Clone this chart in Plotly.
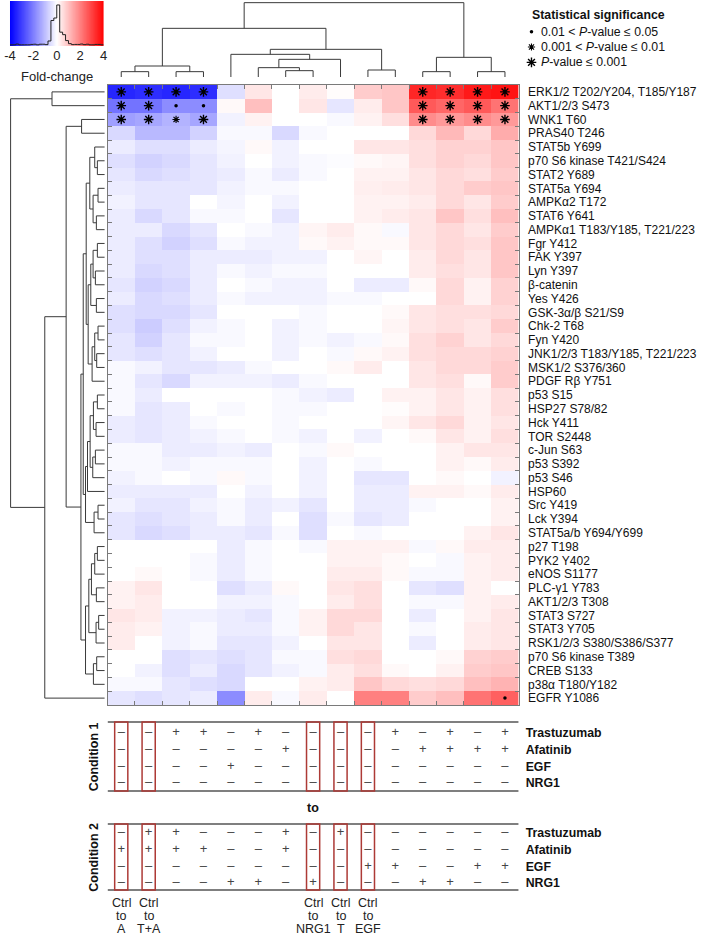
import numpy as np
import plotly.graph_objects as go

W, H = 709, 938

proteins = [
    "ERK1/2 T202/Y204, T185/Y187", "AKT1/2/3 S473", "WNK1 T60", "PRAS40 T246",
    "STAT5b Y699", "p70 S6 kinase T421/S424", "STAT2 Y689", "STAT5a Y694",
    "AMPKα2 T172", "STAT6 Y641", "AMPKα1 T183/Y185, T221/223", "Fgr Y412",
    "FAK Y397", "Lyn Y397", "β-catenin", "Yes Y426", "GSK-3α/β S21/S9",
    "Chk-2 T68", "Fyn Y420", "JNK1/2/3 T183/Y185, T221/223", "MSK1/2 S376/360",
    "PDGF Rβ Y751", "p53 S15", "HSP27 S78/82", "Hck Y411", "TOR S2448",
    "c-Jun S63", "p53 S392", "p53 S46", "HSP60", "Src Y419", "Lck Y394",
    "STAT5a/b Y694/Y699", "p27 T198", "PYK2 Y402", "eNOS S1177", "PLC-γ1 Y783",
    "AKT1/2/3 T308", "STAT3 S727", "STAT3 Y705", "RSK1/2/3 S380/S386/S377",
    "p70 S6 kinase T389", "CREB S133", "p38α T180/Y182", "EGFR Y1086",
]

# fold-change values, one list per protein, 15 comparisons (columns)
fold_change = [
    [-3.4, -3.3, -3.4, -3.3, -0.5, 0.4, 0.0, 0.3, 0.05, 0.8, 0.9, 3.4, 3.3, 3.6, 3.7],
    [-2.2, -2.2, -1.8, -1.8, 0.1, 1.0, 0.0, 0.4, -0.4, 0.3, 0.9, 2.6, 2.4, 2.6, 2.2],
    [-1.5, -1.4, -1.2, -1.4, -0.2, 0.2, 0.0, 0.0, -0.1, 0.2, 0.5, 1.8, 1.6, 1.8, 1.6],
    [-0.6, -1.1, -1.1, -0.7, -0.1, -0.1, -0.6, -0.1, 0.0, 0.0, 0.0, 0.6, 1.1, 0.6, 1.3],
    [-0.3, -0.5, -0.5, -0.3, -0.15, 0.1, -0.2, 0.0, 0.0, 0.4, 0.4, 0.5, 0.7, 0.7, 0.9],
    [-0.5, -0.7, -0.6, -0.4, -0.2, 0.0, -0.2, -0.1, -0.05, 0.1, 0.15, 0.5, 0.7, 0.6, 0.9],
    [-0.4, -0.6, -0.5, -0.4, -0.3, -0.1, -0.3, -0.1, 0.0, 0.2, 0.2, 0.4, 0.6, 0.5, 0.8],
    [-0.3, -0.4, -0.4, -0.4, -0.2, -0.1, -0.1, 0.0, 0.0, 0.25, 0.3, 0.4, 0.6, 0.8, 0.9],
    [-0.2, -0.4, -0.4, 0.0, -0.15, 0.0, -0.2, 0.0, 0.0, 0.2, 0.2, 0.3, 0.6, 0.4, 0.8],
    [-0.3, -0.6, -0.4, -0.1, -0.1, 0.0, -0.4, 0.0, 0.0, 0.2, 0.3, 0.4, 0.9, 0.5, 1.0],
    [-0.3, -0.3, -0.6, -0.4, 0.0, -0.1, -0.2, 0.15, 0.3, 0.1, -0.1, 0.4, 0.6, 0.4, 0.8],
    [-0.3, -0.5, -0.7, -0.5, -0.1, -0.2, -0.2, 0.1, 0.2, 0.1, 0.1, 0.4, 0.6, 0.5, 0.9],
    [-0.3, -0.5, -0.5, -0.3, -0.3, -0.3, -0.2, -0.2, 0.0, 0.15, 0.0, 0.3, 0.6, 0.4, 0.9],
    [-0.3, -0.6, -0.5, -0.3, -0.1, -0.2, -0.1, -0.1, 0.0, 0.0, 0.0, 0.3, 0.5, 0.4, 0.9],
    [-0.4, -0.7, -0.6, -0.3, 0.0, -0.1, -0.2, -0.2, 0.0, -0.3, -0.3, 0.1, 0.6, 0.2, 0.7],
    [-0.3, -0.6, -0.5, -0.3, -0.1, -0.2, -0.2, -0.2, -0.1, -0.1, 0.0, 0.0, 0.6, 0.2, 0.7],
    [-0.5, -0.6, -0.6, -0.4, 0.0, 0.0, 0.0, -0.1, 0.0, 0.0, 0.1, 0.4, 0.5, 0.5, 0.6],
    [-0.5, -0.8, -0.5, -0.2, -0.1, 0.0, -0.2, -0.1, 0.0, 0.0, 0.15, 0.4, 0.5, 0.4, 0.8],
    [-0.4, -0.7, -0.4, -0.1, -0.1, 0.0, -0.2, -0.1, -0.2, -0.1, 0.1, 0.5, 0.7, 0.4, 0.6],
    [-0.4, -0.5, -0.4, -0.2, 0.0, 0.0, -0.2, 0.0, -0.1, 0.1, 0.2, 0.5, 0.6, 0.6, 0.7],
    [-0.1, -0.2, -0.4, -0.4, -0.3, -0.1, 0.0, 0.0, 0.1, 0.3, 0.0, 0.4, 0.6, 0.6, 0.8],
    [-0.1, -0.4, -0.6, -0.2, -0.2, -0.2, -0.3, -0.1, 0.0, 0.0, 0.0, 0.4, 0.5, 0.1, 0.8],
    [-0.1, -0.3, 0.0, 0.0, 0.0, 0.0, -0.1, -0.2, -0.3, 0.0, 0.2, 0.2, 0.4, 0.2, 0.5],
    [-0.1, -0.4, -0.3, 0.0, -0.1, 0.0, -0.1, -0.1, 0.0, 0.0, 0.05, 0.2, 0.4, 0.2, 0.5],
    [-0.3, -0.4, -0.3, -0.1, 0.0, 0.0, -0.1, 0.0, 0.0, 0.0, 0.15, 0.4, 0.6, 0.2, 0.4],
    [-0.3, -0.4, -0.3, -0.2, -0.1, 0.0, -0.1, -0.2, 0.0, -0.2, 0.0, 0.1, 0.4, 0.2, 0.5],
    [-0.1, -0.1, -0.3, -0.3, -0.2, -0.3, 0.0, -0.1, 0.1, 0.0, 0.0, 0.0, 0.2, 0.4, 0.4],
    [-0.1, -0.1, -0.2, -0.1, -0.1, -0.1, 0.0, -0.2, 0.0, -0.1, 0.0, 0.0, 0.2, 0.1, 0.3],
    [-0.2, -0.1, 0.0, -0.1, 0.1, -0.1, 0.0, -0.2, 0.0, -0.4, -0.4, 0.0, 0.1, 0.0, -0.2],
    [-0.3, -0.3, -0.3, -0.3, 0.0, -0.2, 0.0, -0.2, 0.0, -0.3, -0.3, 0.2, 0.2, 0.1, 0.3],
    [-0.2, -0.4, -0.4, -0.2, -0.1, -0.3, -0.2, -0.4, 0.0, -0.3, -0.3, -0.1, 0.0, 0.0, 0.2],
    [-0.4, -0.5, -0.4, -0.3, -0.1, -0.3, 0.0, -0.5, -0.1, -0.4, -0.3, 0.0, 0.0, 0.0, 0.2],
    [-0.4, -0.6, -0.5, -0.3, -0.3, -0.4, -0.1, -0.5, 0.0, -0.1, 0.0, 0.0, 0.0, 0.2, 0.4],
    [0.0, 0.0, 0.0, 0.0, -0.3, -0.1, 0.0, -0.1, 0.2, 0.2, 0.2, -0.1, 0.1, 0.3, 0.3],
    [0.0, 0.0, 0.0, -0.1, -0.3, -0.1, 0.0, 0.0, 0.2, 0.2, 0.1, 0.0, -0.1, 0.2, 0.3],
    [0.0, 0.1, 0.0, -0.1, -0.3, -0.1, 0.0, 0.0, 0.3, 0.3, 0.1, -0.1, -0.1, 0.2, 0.3],
    [0.2, 0.4, 0.0, 0.0, -0.5, -0.3, 0.1, 0.0, 0.4, 0.5, 0.0, -0.4, -0.5, 0.2, 0.0],
    [0.2, 0.3, 0.0, 0.0, -0.2, -0.2, -0.1, 0.0, 0.3, 0.5, 0.0, -0.1, -0.1, 0.2, 0.3],
    [0.4, 0.3, -0.2, -0.2, -0.3, -0.4, -0.1, 0.2, 0.6, 0.6, 0.0, -0.3, 0.0, 0.2, 0.4],
    [0.3, 0.2, -0.2, -0.1, -0.3, -0.3, -0.1, 0.2, 0.6, 0.4, 0.0, -0.1, 0.0, 0.3, 0.4],
    [0.3, 0.0, -0.2, -0.1, -0.4, -0.4, -0.2, 0.0, 0.4, 0.4, 0.0, -0.3, 0.0, 0.3, 0.4],
    [0.0, 0.0, -0.5, -0.4, -0.5, -0.4, -0.1, -0.1, 0.5, 0.6, 0.0, 0.0, 0.1, 0.7, 0.8],
    [0.0, -0.2, -0.5, -0.3, -0.6, -0.4, -0.2, -0.1, 0.3, 0.5, 0.1, 0.0, 0.2, 0.8, 0.9],
    [-0.1, -0.1, -0.4, -0.5, -0.6, 0.0, 0.0, 0.2, 0.3, 0.9, 0.6, 0.5, 0.6, 1.0, 1.2],
    [-0.4, -0.5, -0.4, -0.3, -1.8, 0.3, -0.1, 0.3, 0.0, 2.0, 2.0, 0.8, 1.0, 2.2, 2.5],
]

# significance: (row, column, level)  level 1: 0.01<P<=0.05, 2: 0.001<P<=0.01, 3: P<=0.001
sig_rows = [0, 0, 0, 0, 0, 0, 0, 0, 1, 1, 1, 1, 1, 1, 1, 1, 2, 2, 2, 2, 2, 2, 2, 2, 44]
sig_cols = [0, 1, 2, 3, 11, 12, 13, 14, 0, 1, 2, 3, 11, 12, 13, 14, 0, 1, 2, 3, 11, 12, 13, 14, 14]
sig_levels = [3, 3, 3, 3, 3, 3, 3, 3, 3, 3, 1, 1, 3, 3, 3, 3, 3, 3, 2, 3, 3, 3, 3, 3, 1]
sig_legend = ["0.01 &lt; <i>P</i>-value ≤ 0.05", "0.001 &lt; <i>P</i>-value ≤ 0.01", "<i>P</i>-value ≤ 0.001"]

# column dendrogram merges (left, right, height); leaves 0..14, new nodes from 15
col_merges = [(0, 1, 16), (2, 3, 16), (15, 16, 33), (6, 7, 19), (5, 18, 28), (19, 8, 53),
              (4, 20, 68), (9, 10, 21), (21, 22, 83), (17, 23, 146), (11, 12, 16),
              (13, 14, 16), (25, 26, 59), (24, 27, 223)]

# row dendrogram merges; leaves 0..44, new nodes from 45
row_merges = [(0, 1, 160), (2, 3, 70), (5, 6, 22), (4, 47, 30), (7, 8, 20), (9, 10, 25),
              (49, 50, 35), (48, 51, 45), (11, 12, 22), (13, 14, 28), (53, 54, 35),
              (15, 16, 25), (55, 56, 42), (17, 18, 20), (19, 20, 24), (58, 59, 30),
              (60, 21, 38), (57, 61, 50), (52, 62, 56), (22, 23, 22), (24, 25, 26),
              (64, 65, 34), (26, 27, 28), (67, 28, 36), (66, 68, 44), (69, 29, 52),
              (30, 31, 20), (71, 32, 32), (70, 72, 58), (63, 73, 65), (33, 34, 22),
              (75, 35, 30), (36, 37, 25), (76, 77, 40), (38, 39, 18), (79, 40, 26),
              (78, 80, 48), (41, 42, 24), (82, 43, 34), (81, 83, 58), (74, 84, 72),
              (46, 85, 117), (86, 44, 182), (45, 87, 286)]

treatments = ["Trastuzumab", "Afatinib", "EGF", "NRG1"]
condition1 = ["--++-+----+-+-+", "------+----++++", "----+----------", "---------------"]
condition2 = ["-++---+-+------", "++++--+--------", "---------++--++", "----++-+---++--"]
ctrl_cols = [0, 1, 7, 8, 9]
ctrl_names = ["A", "T+A", "NRG1", "T", "EGF"]
colorbar_ticks = [-4, -2, 0, 2, 4]

# ---------------------------------------------------------------------------
FONT = "Liberation Sans, Arial, Helvetica, sans-serif"
LINE = "#3a3a3a"
FRAME = "#7a7a7a"
z = np.array(fold_change)
n_rows, n_cols = z.shape


def px_x(p):
    return p / W


def px_y(p):
    return 1 - p / H


def dendro(merges, n):
    pos = {i: float(i) for i in range(n)}
    hgt = {i: 0.0 for i in range(n)}
    leaf_ax, h_ax = [], []
    for k, (a, b, h) in enumerate(merges):
        leaf_ax += [pos[a], pos[a], pos[b], pos[b], None]
        h_ax += [hgt[a], h, h, hgt[b], None]
        pos[n + k] = (pos[a] + pos[b]) / 2
        hgt[n + k] = h
    return leaf_ax, h_ax


fig = go.Figure()
cscale = [[0, "rgb(0,0,255)"], [0.5, "rgb(255,255,255)"], [1, "rgb(255,0,0)"]]

fig.add_trace(go.Heatmap(z=z, x=list(range(n_cols)), y=list(range(n_rows)),
                         colorscale=cscale, zmin=-4, zmax=4, showscale=False,
                         xaxis="x", yaxis="y", hoverinfo="skip"))

sym = {1: ("circle", 3.5, 0), 2: ("asterisk-open", 6, 1.1), 3: ("asterisk-open", 8, 1.4)}
for lvl in (1, 2, 3):
    xs = [c for c, l in zip(sig_cols, sig_levels) if l == lvl]
    ys = [r for r, l in zip(sig_rows, sig_levels) if l == lvl]
    s, sz, lw = sym[lvl]
    fig.add_trace(go.Scatter(x=xs, y=ys, mode="markers", xaxis="x", yaxis="y",
                             marker=dict(symbol=s, size=sz, color="black",
                                         line=dict(width=lw, color="black")),
                             hoverinfo="skip", showlegend=False))

# dendrograms
lx, lh = dendro(col_merges, n_cols)
fig.add_trace(go.Scatter(x=lx, y=lh, mode="lines", xaxis="x", yaxis="y3",
                         line=dict(color=LINE, width=1), hoverinfo="skip", showlegend=False))
ry, rh = dendro(row_merges, n_rows)
fig.add_trace(go.Scatter(x=rh, y=ry, mode="lines", xaxis="x2", yaxis="y",
                         line=dict(color=LINE, width=1), hoverinfo="skip", showlegend=False))

# condition tables
for cond, yax in ((condition1, "y4"), (condition2, "y5")):
    xs, ys, ts = [], [], []
    for r, row in enumerate(cond):
        for c, ch in enumerate(row):
            xs.append(c)
            ys.append(r)
            ts.append("+" if ch == "+" else "–")
    fig.add_trace(go.Scatter(x=xs, y=ys, text=ts, mode="text", xaxis="x", yaxis=yax,
                             textfont=dict(family=FONT, size=13, color="#444"),
                             hoverinfo="skip", showlegend=False))

# colour key: gradient + histogram of fold changes
grad = np.linspace(-4, 4, 256)
fig.add_trace(go.Heatmap(z=[grad], x0=-4 + 4 / 256, dx=8 / 256, y0=0.5, dy=1,
                         colorscale=cscale, zmin=-4, zmax=4, showscale=False,
                         xaxis="x6", yaxis="y6", hoverinfo="skip"))
counts, edges = np.histogram(z.flatten(), bins=np.arange(-4, 4.001, 0.25))
hx = list(edges)
hy = list(counts) + [counts[-1]]
fig.add_trace(go.Scatter(x=hx, y=hy, mode="lines", line=dict(color="#222", width=1, shape="hv"),
                         xaxis="x6", yaxis="y8", hoverinfo="skip", showlegend=False))

# significance legend symbols
for i, lvl in enumerate((1, 2, 3)):
    s, sz, lw = sym[lvl]
    fig.add_trace(go.Scatter(x=[0], y=[i], mode="markers", xaxis="x7", yaxis="y7",
                             marker=dict(symbol=s, size=sz, color="black",
                                         line=dict(width=lw, color="black")),
                             hoverinfo="skip", showlegend=False))

hide = dict(visible=False, showgrid=False, zeroline=False)
ann = []
shapes = []


def note(text, **kw):
    d = dict(text=text, showarrow=False, xanchor="center", yanchor="middle",
             font=dict(family=FONT, size=12.3, color="#111"))
    d.update(kw)
    ann.append(d)


# tables decoration
for yax in ("y4", "y5"):
    for yv in (0, 1):
        shapes.append(dict(type="line", xref="x", yref=f"{yax} domain", x0=-0.5, x1=n_cols - 0.5,
                           y0=yv, y1=yv, line=dict(color="#555", width=1.3)))
    for c in ctrl_cols:
        shapes.append(dict(type="rect", xref="x", yref=f"{yax} domain", x0=c - 0.24, x1=c + 0.24,
                           y0=0, y1=1, line=dict(color="#ad3a36", width=1.5)))

note("<b>Condition 1</b>", xref="paper", yref="y4 domain", x=px_x(89), y=0.5, textangle=-90,
     font=dict(family=FONT, size=12.5, color="#111"))
note("<b>Condition 2</b>", xref="paper", yref="y5 domain", x=px_x(89), y=0.5, textangle=-90,
     font=dict(family=FONT, size=12.5, color="#111"))
note("<b>to</b>", xref="x", yref="paper", x=(n_cols - 1) / 2, y=px_y(808),
     font=dict(family=FONT, size=12.5, color="#111"))
for c, nm in zip(ctrl_cols, ctrl_names):
    for line_txt, py in zip(("Ctrl", "to", nm), (903, 916, 929)):
        note(line_txt, xref="x", yref="paper", x=c, y=px_y(py),
             font=dict(family=FONT, size=12.5, color="#222"))

note("Fold-change", xref="paper", yref="paper", x=px_x(51.5), y=px_y(76),
     font=dict(family=FONT, size=13, color="#222"))
note("<b>Statistical significance</b>", xref="paper", yref="paper",
     x=px_x(531), y=px_y(15), xanchor="left")
for i, t in enumerate(sig_legend):
    note(t, xref="paper", yref="y7", x=px_x(541), y=i, xanchor="left")

fig.update_layout(
    width=W, height=H, margin=dict(l=0, r=0, t=0, b=0),
    paper_bgcolor="white", plot_bgcolor="white", showlegend=False,
    font=dict(family=FONT, color="#111"),
    xaxis=dict(domain=[px_x(103), px_x(520)], range=[-0.5, n_cols - 0.5], anchor="y",
               showticklabels=False, tickvals=[k + 0.5 for k in range(n_cols - 1)],
               ticks="inside", ticklen=4, tickcolor=FRAME, showline=True, linecolor=FRAME,
               linewidth=1, mirror="ticks", showgrid=False, zeroline=False),
    yaxis=dict(domain=[px_y(705), px_y(85)], range=[n_rows - 0.5, -0.5], anchor="x",
               side="right", tickvals=list(range(n_rows)), ticktext=proteins, ticks="",
               tickfont=dict(family=FONT, size=12, color="#111"), ticklabelstandoff=6,
               showline=True, linecolor=FRAME, linewidth=1, mirror="ticks",
               minor=dict(tickvals=[k + 0.5 for k in range(n_rows - 1)], ticks="inside",
                          ticklen=4, tickcolor=FRAME, showgrid=False),
               showgrid=False, zeroline=False),
    xaxis2=dict(domain=[0, px_x(103)], range=[300, -9], anchor="y", **hide),
    yaxis3=dict(domain=[px_y(84), 1], range=[-21, 231], anchor="x", **hide),
    yaxis4=dict(domain=[px_y(791), px_y(722)], range=[3.47, -0.66], anchor="x", side="right",
                tickvals=list(range(4)), ticktext=[f"<b>{t}</b>" for t in treatments], ticks="",
                tickfont=dict(family=FONT, size=12.3, color="#111"), ticklabelstandoff=6,
                showline=False, showgrid=False, zeroline=False),
    yaxis5=dict(domain=[px_y(890), px_y(824)], range=[3.41, -0.54], anchor="x", side="right",
                tickvals=list(range(4)), ticktext=[f"<b>{t}</b>" for t in treatments], ticks="",
                tickfont=dict(family=FONT, size=12.3, color="#111"), ticklabelstandoff=6,
                showline=False, showgrid=False, zeroline=False),
    xaxis6=dict(domain=[px_x(4), px_x(99)], range=[-4, 4], anchor="y6",
                tickvals=colorbar_ticks, ticktext=[str(t) for t in colorbar_ticks],
                ticks="", tickfont=dict(family=FONT, size=13, color="#222"),
                ticklabeloverflow="allow",
                showline=False, showgrid=False, zeroline=False),
    yaxis6=dict(domain=[px_y(46), px_y(1)], range=[0, 1], anchor="x6", **hide),
    yaxis8=dict(domain=[px_y(46), px_y(1)], range=[-0.03 * counts.max(), 1.1 * counts.max()],
                anchor="x6", overlaying="y6", **hide),
    xaxis7=dict(domain=[px_x(527), px_x(539)], range=[-1, 1], anchor="y7", **hide),
    yaxis7=dict(domain=[px_y(70), px_y(24)], range=[2.5, -0.5], anchor="x7", **hide),
    annotations=ann, shapes=shapes,
)

fig.write_html("out.html", config={"displayModeBar": False},
               post_script="document.body.style.margin='0';")
